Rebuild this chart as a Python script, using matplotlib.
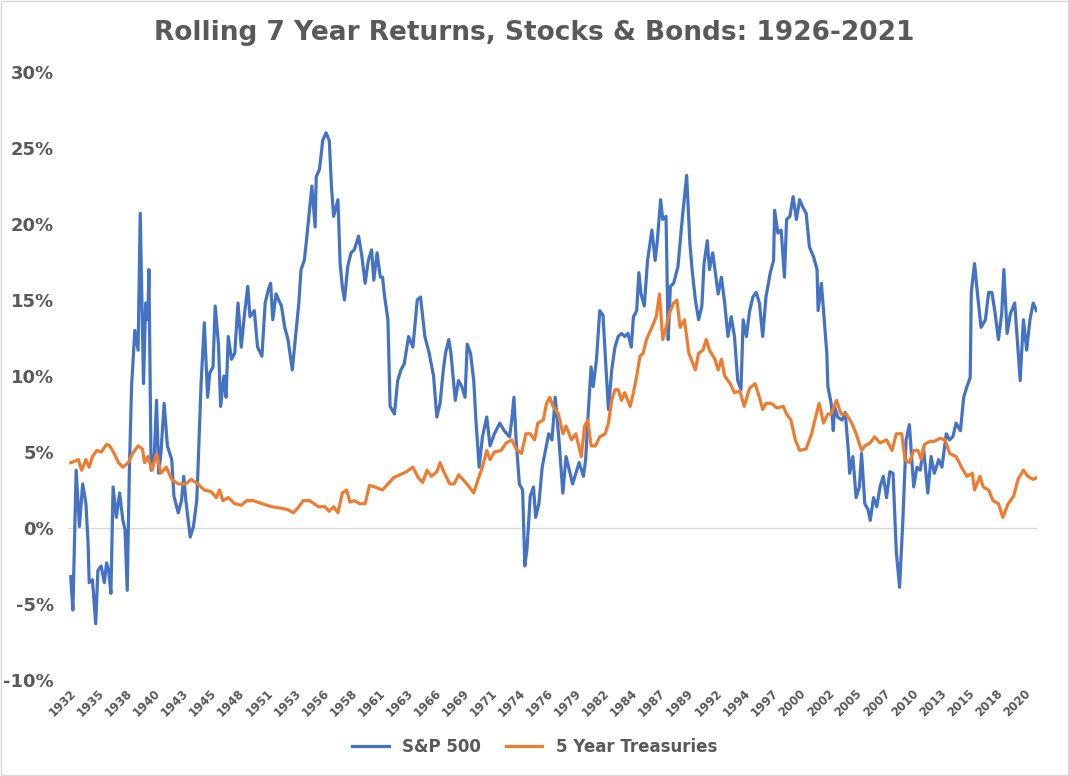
import matplotlib
matplotlib.use("Agg")
import matplotlib.pyplot as plt
from matplotlib.ticker import FuncFormatter
import numpy as np

sp_years = [1933.0,1933.2,1933.5,1933.8,1934.1,1934.4,1934.6,1934.7,1935.0,1935.3,1935.5,1935.8,1936.1,1936.3,1936.5,1936.7,1936.9,1937.2,1937.5,1937.8,1938.0,1938.2,1938.4,1938.6,1938.9,1939.2,1939.4,1939.7,1939.9,1940.1,1940.2,1940.4,1940.7,1940.9,1941.1,1941.3,1941.6,1941.9,1942.3,1942.5,1942.9,1943.2,1943.4,1943.6,1944.0,1944.3,1944.6,1944.7,1945.0,1945.3,1945.6,1945.8,1946.1,1946.3,1946.6,1946.8,1947.1,1947.3,1947.5,1947.8,1948.1,1948.4,1948.7,1949.0,1949.3,1949.5,1949.9,1950.2,1950.6,1950.9,1951.2,1951.4,1951.6,1951.9,1952.4,1952.7,1953.0,1953.4,1953.6,1954.0,1954.2,1954.5,1954.7,1955.2,1955.5,1955.6,1955.9,1956.2,1956.5,1956.8,1957.0,1957.2,1957.6,1957.8,1958.0,1958.2,1958.5,1958.8,1959.1,1959.5,1959.8,1960.1,1960.4,1960.7,1960.9,1961.2,1961.5,1961.7,1961.9,1962.2,1962.4,1962.8,1963.1,1963.4,1963.7,1964.1,1964.5,1964.9,1965.2,1965.6,1966.0,1966.4,1966.7,1967.0,1967.3,1967.5,1967.8,1968.0,1968.4,1968.7,1969.0,1969.3,1969.5,1969.8,1970.1,1970.3,1970.6,1970.9,1971.3,1971.6,1972.0,1972.5,1972.9,1973.4,1973.6,1973.8,1974.0,1974.3,1974.6,1974.8,1975.0,1975.3,1975.6,1975.8,1976.1,1976.4,1976.7,1977.0,1977.3,1977.6,1977.9,1978.1,1978.3,1978.6,1978.9,1979.2,1979.5,1979.8,1980.2,1980.4,1980.6,1980.9,1981.1,1981.4,1981.7,1982.0,1982.3,1982.5,1982.8,1983.1,1983.4,1983.7,1984.0,1984.3,1984.6,1984.8,1985.1,1985.3,1985.5,1985.8,1986.1,1986.5,1986.8,1987.0,1987.3,1987.5,1987.8,1988.0,1988.2,1988.5,1988.9,1989.2,1989.4,1989.7,1990.0,1990.2,1990.5,1990.8,1991.1,1991.3,1991.6,1991.8,1992.1,1992.6,1992.9,1993.2,1993.5,1993.8,1994.1,1994.4,1994.7,1994.9,1995.2,1995.5,1995.8,1996.1,1996.4,1996.7,1997.0,1997.4,1997.7,1997.8,1998.1,1998.4,1998.7,1998.9,1999.2,1999.5,1999.8,2000.1,2000.4,2000.7,2001.0,2001.4,2001.7,2001.8,2002.1,2002.3,2002.6,2002.7,2003.0,2003.2,2003.3,2003.6,2004.0,2004.3,2004.6,2004.7,2005.0,2005.3,2005.6,2005.8,2006.1,2006.4,2006.6,2006.9,2007.2,2007.5,2007.8,2008.1,2008.4,2008.7,2009.0,2009.3,2009.6,2009.9,2010.2,2010.6,2010.9,2011.2,2011.5,2011.9,2012.2,2012.5,2012.9,2013.2,2013.6,2013.9,2014.2,2014.5,2014.9,2015.2,2015.5,2015.8,2015.9,2016.2,2016.5,2016.8,2017.2,2017.5,2017.8,2018.1,2018.4,2018.7,2018.9,2019.2,2019.5,2019.9,2020.4,2020.7,2021.0,2021.3,2021.6,2021.9]
sp_values = [-3.2,-5.4,3.8,0.1,2.9,1.6,-1.0,-3.6,-3.4,-6.3,-2.8,-2.5,-3.6,-2.3,-2.8,-4.3,2.7,0.7,2.3,0.5,-0.1,-4.1,3.8,9.3,13.0,11.7,20.7,9.5,14.8,13.7,17.0,3.8,4.9,8.4,3.6,4.9,8.2,5.4,4.5,2.1,1.0,1.8,3.4,1.8,-0.6,0.1,1.8,3.6,9.5,13.5,8.6,10.2,10.6,14.6,12.1,8.0,10.0,8.6,12.6,11.1,11.5,14.8,11.9,14.1,15.9,13.9,14.3,11.9,11.3,14.8,15.7,16.1,13.7,15.4,14.6,13.2,12.4,10.4,11.9,14.8,17.0,17.6,18.9,22.5,19.8,23.1,23.6,25.5,26.0,25.5,22.5,20.5,21.6,17.4,15.9,15.0,17.2,18.1,18.3,19.2,17.9,16.1,17.6,18.3,16.3,18.1,16.5,16.5,15.2,13.7,8.0,7.5,9.7,10.4,10.8,12.6,11.9,15.0,15.2,12.6,11.5,10.0,7.3,8.2,10.4,11.5,12.4,11.5,8.4,9.7,9.3,8.6,12.1,11.5,9.7,7.1,4.0,6.0,7.3,5.4,6.2,6.9,6.4,6.0,7.1,8.6,5.8,2.9,2.5,-2.5,-1.4,2.1,2.7,0.7,1.6,4.0,5.1,6.2,5.8,8.6,6.2,4.3,2.3,4.7,3.8,2.9,3.6,4.3,3.4,4.5,7.1,10.6,9.3,11.1,14.3,14.0,10.2,7.8,10.4,11.9,12.6,12.8,12.6,12.8,11.9,13.9,14.3,16.8,15.4,14.6,17.6,19.6,17.6,18.9,21.6,20.3,20.5,12.4,15.9,16.1,17.2,19.6,21.1,23.2,18.7,17.0,15.0,13.7,14.6,17.4,18.9,17.0,18.1,15.4,16.5,14.8,12.6,13.9,12.6,9.7,9.1,13.7,12.6,14.3,15.2,15.5,14.8,12.6,15.2,16.8,17.6,20.9,19.4,19.6,16.5,20.3,20.5,21.8,20.3,21.6,21.1,20.7,18.5,17.8,17.0,14.3,16.1,14.3,11.5,9.3,8.2,6.4,8.0,7.3,7.1,7.6,4.9,3.6,4.7,2.0,2.7,4.9,1.6,1.2,0.5,2.0,1.4,2.7,3.4,2.0,3.7,3.6,-1.6,-3.9,0.5,5.8,6.8,2.7,4.0,3.8,5.3,2.3,4.7,3.6,4.5,4.0,6.2,5.8,6.0,6.9,6.4,8.6,9.3,9.9,15.5,17.4,15.2,13.2,13.7,15.5,15.5,14.1,12.4,14.1,17.0,12.8,14.1,14.8,9.7,13.7,11.7,13.7,14.8,14.3]

tr_years = [1933.0,1933.4,1933.7,1934.0,1934.4,1934.7,1935.0,1935.4,1935.8,1936.3,1936.6,1937.0,1937.4,1937.8,1938.3,1938.7,1939.2,1939.6,1939.8,1940.1,1940.5,1940.9,1941.3,1941.8,1942.3,1942.9,1943.6,1944.1,1944.7,1945.3,1945.9,1946.4,1946.7,1947.0,1947.5,1948.1,1948.7,1949.2,1949.8,1950.6,1951.5,1952.4,1953.0,1953.5,1954.0,1954.4,1955.0,1955.8,1956.4,1956.8,1957.2,1957.6,1958.0,1958.4,1958.7,1959.1,1959.6,1960.1,1960.5,1961.0,1961.7,1962.2,1962.7,1963.3,1963.9,1964.5,1965.0,1965.4,1965.8,1966.2,1966.7,1967.0,1967.4,1967.9,1968.3,1968.7,1969.1,1969.7,1970.1,1970.5,1970.9,1971.3,1971.6,1972.0,1972.6,1973.1,1973.6,1974.0,1974.5,1974.9,1975.3,1975.7,1976.0,1976.5,1976.8,1977.1,1977.4,1977.9,1978.3,1978.6,1979.1,1979.5,1980.0,1980.3,1980.6,1980.9,1981.3,1981.7,1982.2,1982.5,1982.8,1983.1,1983.4,1983.7,1984.0,1984.5,1984.8,1985.1,1985.4,1985.7,1986.0,1986.5,1986.9,1987.2,1987.5,1987.8,1988.1,1988.5,1988.8,1989.1,1989.5,1989.9,1990.5,1990.8,1991.2,1991.5,1991.8,1992.3,1992.6,1992.9,1993.2,1993.7,1994.1,1994.6,1995.0,1995.5,1996.0,1996.4,1996.7,1997.0,1997.5,1998.0,1998.6,1998.9,1999.3,1999.7,2000.1,2000.7,2001.2,2001.5,2001.9,2002.3,2002.7,2003.0,2003.5,2003.9,2004.4,2004.9,2005.3,2005.8,2006.1,2006.6,2007.0,2007.5,2008.1,2008.6,2009.0,2009.5,2009.8,2010.2,2010.6,2011.0,2011.3,2011.6,2012.1,2012.5,2013.0,2013.5,2013.9,2014.5,2015.0,2015.5,2016.0,2016.2,2016.7,2017.0,2017.5,2017.9,2018.4,2018.8,2019.3,2019.8,2020.2,2020.7,2021.1,2021.6,2021.9]
tr_values = [4.3,4.4,4.5,3.8,4.5,4.0,4.7,5.1,5.0,5.5,5.4,4.9,4.3,4.0,4.3,4.9,5.4,5.2,4.3,4.7,3.8,4.9,3.6,4.0,3.2,2.9,2.9,3.2,2.9,2.5,2.4,2.0,2.5,1.8,2.0,1.6,1.5,1.8,1.8,1.6,1.4,1.3,1.2,1.0,1.4,1.8,1.8,1.4,1.4,1.1,1.4,1.0,2.3,2.5,1.7,1.8,1.6,1.6,2.8,2.7,2.5,2.9,3.3,3.5,3.7,4.0,3.3,3.0,3.8,3.4,3.7,4.3,3.6,2.9,2.9,3.5,3.2,2.7,2.3,3.2,4.0,5.1,4.5,5.0,5.1,5.6,5.8,5.2,4.9,6.2,6.2,5.8,6.9,7.1,8.2,8.6,8.0,7.5,6.2,6.7,5.8,6.2,4.7,6.7,7.1,5.4,5.4,6.0,6.2,6.9,8.4,9.1,9.1,8.4,8.9,8.0,8.9,10.0,11.3,11.5,12.4,13.2,13.9,15.4,12.4,13.2,14.1,14.8,15.0,13.2,13.7,11.5,10.4,11.5,11.7,12.4,11.7,11.1,10.4,11.1,10.0,9.5,8.9,9.0,8.0,9.2,9.5,8.6,7.8,8.2,8.2,7.9,8.0,7.5,7.1,5.8,5.1,5.2,6.2,7.1,8.2,6.9,7.5,7.5,8.4,7.5,7.5,6.9,6.2,5.1,5.4,5.6,6.0,5.6,5.8,5.1,6.2,6.2,4.5,4.3,5.1,5.1,4.5,5.5,5.7,5.7,5.9,5.8,4.9,4.7,4.0,3.4,3.6,2.5,3.4,2.7,2.5,1.8,1.6,0.7,1.6,2.1,3.2,3.8,3.4,3.2,3.3]

tick_labels = ["1932","1935","1938","1940","1943","1945","1948","1951","1953","1956","1958","1961","1963","1966","1969","1971","1974","1976","1979","1982","1984","1987","1989","1992","1994","1997","2000","2002","2005","2007","2010","2013","2015","2018","2020"]

gray = "#595959"
fig = plt.figure(figsize=(10.69, 7.76), dpi=100)
ax = fig.add_axes([68/1069, 1-680/776, (1037-68)/1069, (680-72)/776])
ax.plot(sp_years, sp_values, color="#4472C4", lw=2.3, label="S&P 500", solid_joinstyle="round")
ax.plot(tr_years, tr_values, color="#ED7D31", lw=2.3, label="5 Year Treasuries", solid_joinstyle="round")
ax.axhline(0, color="#D9D9D9", lw=1, zorder=0)
ax.set_ylim(-10, 30)
ax.set_xlim(1932.75, 2021.95)
ax.set_yticks(np.arange(-10, 31, 5))
ax.yaxis.set_major_formatter(FuncFormatter(lambda v, p: f"{v:.0f}%"))
ticks = [1932.92 + k * 31 / 12 for k in range(len(tick_labels))]
ax.set_xticks(ticks)
ax.set_xticklabels(tick_labels, rotation=45, ha="right", rotation_mode="anchor")
for s in ax.spines.values():
    s.set_visible(False)
ax.tick_params(length=0)
ax.tick_params(axis="y", labelsize=13, labelcolor=gray, pad=10)
ax.tick_params(axis="x", labelsize=8.5, labelcolor=gray, pad=5)
for t in ax.get_yticklabels() + ax.get_xticklabels():
    t.set_fontweight("bold")
fig.text(0.5, 1-33/776, "Rolling 7 Year Returns, Stocks & Bonds: 1926-2021", ha="center", va="center",
         fontsize=19, fontweight="bold", color=gray)
leg = fig.legend(loc="center", bbox_to_anchor=(0.5, 1-747/776), ncol=2, frameon=False,
                 prop={"size": 12, "weight": "bold"}, handlelength=2.2, columnspacing=1.5)
for t in leg.get_texts():
    t.set_color(gray)
fig.patches.append(plt.Rectangle((0.001, 0.001), 0.998, 0.998, transform=fig.transFigure,
                                 fill=False, edgecolor="#D9D9D9", lw=1))
fig.savefig("out.png", dpi=100)
